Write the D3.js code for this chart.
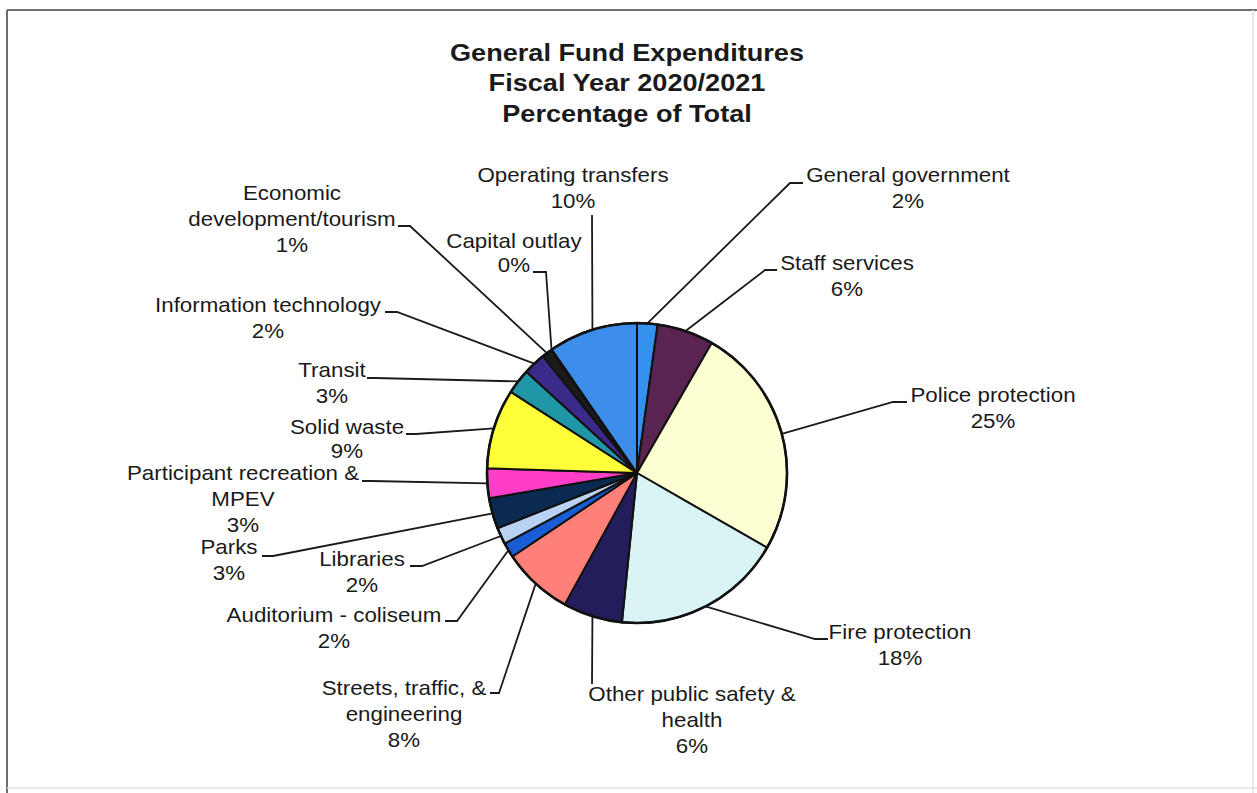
<!DOCTYPE html>
<html>
<head>
<meta charset="utf-8">
<script src="https://cdn.jsdelivr.net/npm/d3@7"></script>
<style>
  html, body { margin: 0; padding: 0; background: #fff; }
  svg { display: block; }
  text { font-family: "Liberation Sans", Arial, sans-serif; fill: #1a1a1a; }
</style>
</head>
<body>
<svg id="chart" width="1257" height="793"></svg>
<script>
// ---------- DATA ----------
const titleLines = ["General Fund Expenditures", "Fiscal Year 2020/2021", "Percentage of Total"];

const categories = [
  "General government", "Staff services", "Police protection", "Fire protection",
  "Other public safety & health", "Streets, traffic, & engineering", "Auditorium - coliseum",
  "Libraries", "Parks", "Participant recreation & MPEV", "Solid waste", "Transit",
  "Information technology", "Economic development/tourism", "Capital outlay", "Operating transfers"
];

// share of total (percent)
const values = [2.2, 6.1, 25.0, 18.3, 6.4, 7.6, 1.6, 1.8, 3.3, 3.2, 8.6, 2.7, 2.4, 1.1, 0.1, 9.6];

// percentage labels as printed
const pctLabels = ["2%", "6%", "25%", "18%", "6%", "8%", "2%", "2%", "3%", "3%", "9%", "3%", "2%", "1%", "0%", "10%"];

// how each category label is wrapped
const labelLines = [
  ["General government"], ["Staff services"], ["Police protection"], ["Fire protection"],
  ["Other public safety &", "health"], ["Streets, traffic, &", "engineering"], ["Auditorium - coliseum"],
  ["Libraries"], ["Parks"], ["Participant recreation &", "MPEV"], ["Solid waste"], ["Transit"],
  ["Information technology"], ["Economic", "development/tourism"], ["Capital outlay"], ["Operating transfers"]
];

// ---------- STYLE / LAYOUT ----------
const colors = [
  "#3591ee", "#5a2450", "#ffffd4", "#d8f4f4", "#231d5c", "#ff8078", "#1a5cd4", "#b9d2f4",
  "#0b2a52", "#ff3ec8", "#ffff3a", "#1f97a6", "#3c2a8a", "#1a1a1a", "#333333", "#3d8eea"
];

// label block: center x, first baseline, line step, leader points after the slice edge
const labelLayout = [
  { cx: 908, y: 182, step: 25.8, leader: [[790, 183], [803, 183]] },
  { cx: 847, y: 270, step: 25.8, leader: [[765, 270], [777, 270]] },
  { cx: 993, y: 402, step: 25.8, leader: [[893, 402], [907, 402]] },
  { cx: 900, y: 639, step: 25.8, leader: [[815, 639], [828, 639]] },
  { cx: 692, y: 701, step: 25.8, leader: [[592, 684]] },
  { cx: 404, y: 695, step: 25.8, leader: [[499, 693], [490, 693]] },
  { cx: 334, y: 622, step: 25.8, leader: [[457, 621], [445, 621]] },
  { cx: 362, y: 566, step: 25.8, leader: [[422, 566], [410, 566]] },
  { cx: 229, y: 554, step: 25.8, leader: [[273, 556], [262, 556]] },
  { cx: 243, y: 480, step: 25.8, leader: [[372, 481], [362, 481]] },
  { cx: 347, y: 434, step: 23.5, leader: [[416, 434], [406, 434]] },
  { cx: 332, y: 377, step: 25.8, leader: [[375, 378], [367, 378]] },
  { cx: 268, y: 312, step: 25.8, leader: [[397, 312], [385, 312]] },
  { cx: 292, y: 200, step: 25.8, leader: [[410, 226], [398, 226]] },
  { cx: 514, y: 248, step: 24, leader: [[546, 272], [533, 272]] },
  { cx: 573, y: 182, step: 25.8, leader: [[592, 215]] }
];

const W = 1257, H = 793;
const cx = 637, cy = 473, R = 150;
const labelScaleX = 1.09;

const svg = d3.select("#chart");

// frame
svg.append("line").attr("x1", 7).attr("y1", 10).attr("x2", W).attr("y2", 10)
  .attr("stroke", "#6e6e6e").attr("stroke-width", 2);
svg.append("line").attr("x1", 7).attr("y1", 10).attr("x2", 7).attr("y2", H)
  .attr("stroke", "#6e6e6e").attr("stroke-width", 2);
svg.append("line").attr("x1", 1253).attr("y1", 10).attr("x2", 1253).attr("y2", H)
  .attr("stroke", "#e2e2e2").attr("stroke-width", 1.5);
svg.append("line").attr("x1", 7).attr("y1", 788).attr("x2", W).attr("y2", 788)
  .attr("stroke", "#e2e2e2").attr("stroke-width", 1.5);

// title
const titleG = svg.append("g");
titleLines.forEach((t, i) => {
  titleG.append("text")
    .attr("transform", `translate(627,${60.5 + i * 30.5}) scale(1.13,1)`)
    .attr("text-anchor", "middle")
    .attr("font-size", 24)
    .attr("font-weight", "bold")
    .text(t);
});

// pie
const pie = d3.pie().sort(null).value(d => d.value).startAngle(0).endAngle(2 * Math.PI);
const data = categories.map((c, i) => ({ name: c, value: values[i], i }));
const arcs = pie(data);

const arc = d3.arc().innerRadius(0).outerRadius(R);
const edgeArc = d3.arc().innerRadius(R).outerRadius(R);

// leader lines (drawn before pie so the pie outline covers their ends)
const lineGen = d3.line();
const leaderG = svg.append("g");
arcs.forEach((a, i) => {
  const c = edgeArc.centroid(a);
  const pts = [[cx + c[0], cy + c[1]]].concat(labelLayout[i].leader);
  leaderG.append("path")
    .attr("d", lineGen(pts))
    .attr("fill", "none")
    .attr("stroke", "#1a1a1a")
    .attr("stroke-width", 1.8);
});

const g = svg.append("g").attr("transform", `translate(${cx},${cy})`);
g.selectAll("path.slice")
  .data(arcs)
  .join("path")
  .attr("class", "slice")
  .attr("d", arc)
  .attr("fill", (d, i) => colors[i])
  .attr("stroke", "#111")
  .attr("stroke-width", 2)
  .attr("stroke-linejoin", "round");

// outer outline, slightly heavier
g.append("circle").attr("r", R).attr("fill", "none").attr("stroke", "#111").attr("stroke-width", 2.6);

// labels
const labelG = svg.append("g");
arcs.forEach((a, i) => {
  const L = labelLayout[i];
  const lines = labelLines[i].concat([pctLabels[i]]);
  lines.forEach((t, k) => {
    labelG.append("text")
      .attr("transform", `translate(${L.cx},${L.y + k * L.step}) scale(${labelScaleX},1)`)
      .attr("text-anchor", "middle")
      .attr("font-size", 20.5)
      .text(t);
  });
});
</script>
</body>
</html>
